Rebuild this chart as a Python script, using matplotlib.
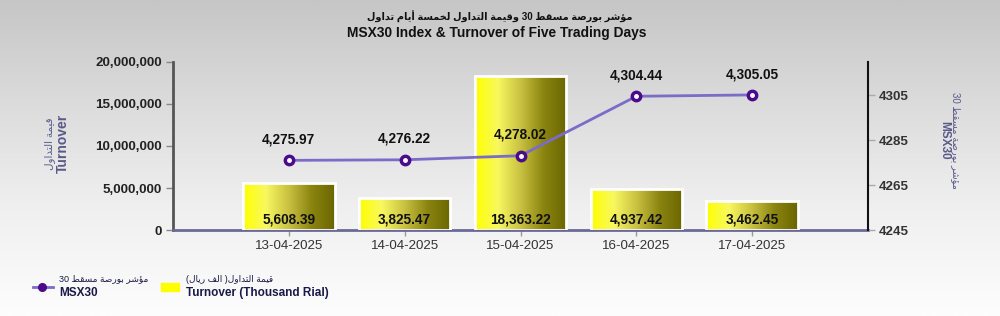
import re
import numpy as np
import matplotlib
matplotlib.use('Agg')
import matplotlib.pyplot as plt
from matplotlib.colors import LinearSegmentedColormap
from matplotlib.lines import Line2D
from matplotlib.patches import Rectangle

# data
dates = ['13-04-2025', '14-04-2025', '15-04-2025', '16-04-2025', '17-04-2025']
turnover = [5608.39, 3825.47, 18363.22, 4937.42, 3462.45]   # thousand rial
msx30 = [4275.97, 4276.22, 4278.02, 4304.44, 4305.05]

title_ar = 'مؤشر بورصة مسقط 30 وقيمة التداول لخمسة أيام تداول'
title_en = 'MSX30 Index & Turnover of Five Trading Days'
left_ar = 'قيمة التداول'
left_en = 'Turnover'
right_ar = 'مؤشر بورصة مسقط 30'
right_en = 'MSX30'
leg1_ar = 'مؤشر بورصة مسقط 30'
leg1_en = 'MSX30'
leg2_ar = 'قيمة التداول( الف ريال)'
leg2_en = 'Turnover (Thousand Rial)'

# simple arabic shaping (isolated, final, initial, medial)
FORMS = {
    'ا': ('\ufe8d', '\ufe8e', None, None),
    'أ': ('\ufe83', '\ufe84', None, None),
    'ب': ('\ufe8f', '\ufe90', '\ufe91', '\ufe92'),
    'ت': ('\ufe95', '\ufe96', '\ufe97', '\ufe98'),
    'ة': ('\ufe93', '\ufe94', None, None),
    'خ': ('\ufea5', '\ufea6', '\ufea7', '\ufea8'),
    'د': ('\ufea9', '\ufeaa', None, None),
    'ر': ('\ufead', '\ufeae', None, None),
    'س': ('\ufeb1', '\ufeb2', '\ufeb3', '\ufeb4'),
    'ش': ('\ufeb5', '\ufeb6', '\ufeb7', '\ufeb8'),
    'ص': ('\ufeb9', '\ufeba', '\ufebb', '\ufebc'),
    'ط': ('\ufec1', '\ufec2', '\ufec3', '\ufec4'),
    'ف': ('\ufed1', '\ufed2', '\ufed3', '\ufed4'),
    'ق': ('\ufed5', '\ufed6', '\ufed7', '\ufed8'),
    'ل': ('\ufedd', '\ufede', '\ufedf', '\ufee0'),
    'م': ('\ufee1', '\ufee2', '\ufee3', '\ufee4'),
    'و': ('\ufeed', '\ufeee', None, None),
    'ؤ': ('\ufe85', '\ufe86', None, None),
    'ي': ('\ufef1', '\ufef2', '\ufef3', '\ufef4'),
}


def ar(text):
    out = []
    for i, c in enumerate(text):
        if c not in FORMS:
            out.append(c)
            continue
        iso, fin, ini, med = FORMS[c]
        prev = text[i - 1] if i > 0 else ''
        nxt = text[i + 1] if i + 1 < len(text) else ''
        jp = prev in FORMS and FORMS[prev][2] is not None
        jn = ini is not None and nxt in FORMS
        if jp and jn:
            out.append(med)
        elif jp:
            out.append(fin)
        elif jn:
            out.append(ini)
        else:
            out.append(iso)
    s = ''.join(out)[::-1]
    s = re.sub(r'[0-9]+', lambda m: m.group(0)[::-1], s)
    return s.translate(str.maketrans('()', ')('))


FAM = ['Liberation Sans', 'DejaVu Sans']
plt.rcParams['font.family'] = FAM

fig = plt.figure(figsize=(10, 3.16), dpi=100)

# background gradient
bg = fig.add_axes([0, 0, 1, 1], zorder=-10)
grad = np.linspace(0, 1, 256).reshape(-1, 1)
bg_cmap = LinearSegmentedColormap.from_list('bg', ['#c6c6c6', '#dcdcdc', '#f0f0f0', '#fdfdfd'])
bg.imshow(grad, aspect='auto', cmap=bg_cmap, extent=[0, 1, 0, 1], origin='upper')
bg.axis('off')

ax = fig.add_axes([0.173, 0.272, 0.695, 0.532])
ax.patch.set_alpha(0)
x = np.arange(len(dates))
heights = [v * 1000 for v in turnover]
bar_cmap = LinearSegmentedColormap.from_list('bar', ['#ffff00', '#f8f860', '#c8c040', '#8a8410', '#6a6600'])
bars = ax.bar(x, heights, 0.79, color='none', edgecolor='white', linewidth=2, zorder=3)
hgrad = np.linspace(0, 1, 256).reshape(1, -1)
for b in bars:
    bx, by = b.get_x(), b.get_y()
    im = ax.imshow(hgrad, cmap=bar_cmap, aspect='auto', zorder=2,
                   extent=[bx, bx + b.get_width(), by, by + b.get_height()])
    im.set_clip_path(b)
for xi, v in zip(x, turnover):
    ax.annotate(f'{v:,.2f}', (xi, 0), xytext=(0, 2.5), textcoords='offset points',
                ha='center', va='bottom', fontsize=9.8, fontweight='bold', color='#111111', zorder=5)

ax.set_xlim(-1, 5)
ax.set_ylim(0, 20000000)
ax.set_yticks([0, 5000000, 10000000, 15000000, 20000000])
ax.yaxis.set_major_formatter(matplotlib.ticker.FuncFormatter(lambda v, p: f'{v:,.0f}'))
ax.set_xticks(x)
ax.set_xticklabels(dates)
ax.tick_params(axis='y', colors='#888888', length=5, width=1, labelcolor='#222222', labelsize=9.6, pad=3)
for t in ax.get_yticklabels():
    t.set_fontweight('bold')
ax.tick_params(axis='x', colors='#999999', length=4, width=1, labelcolor='#333333', labelsize=9.6, pad=3)
ax.spines['top'].set_visible(False)
ax.spines['right'].set_visible(False)
ax.spines['left'].set_color('#555555')
ax.spines['left'].set_linewidth(2)
ax.spines['bottom'].set_color('#6a6a9a')
ax.spines['bottom'].set_linewidth(2)

ax2 = ax.twinx()
ax2.plot(x, msx30, color='#7a6cc8', linewidth=2, marker='o', markersize=7.5,
         markerfacecolor='#4a0a8a', markeredgecolor='#4a0a8a', zorder=4)
ax2.plot(x, msx30, linestyle='none', marker='o', markersize=2.5, color='white', zorder=5)
for xi, v in zip(x, msx30):
    ax2.annotate(f'{v:,.2f}', (xi, v), xytext=(0, 10), textcoords='offset points',
                 ha='center', va='bottom', fontsize=9.8, fontweight='bold', color='#111111')
ax2.set_ylim(4245, 4319.7)
ax2.set_yticks([4245, 4265, 4285, 4305])
ax2.tick_params(axis='y', colors='#aaaaaa', length=5, width=1, labelcolor='#333333', labelsize=9.6, pad=3)
for t in ax2.get_yticklabels():
    t.set_fontweight('bold')
for s in ['top', 'left', 'bottom']:
    ax2.spines[s].set_visible(False)
ax2.spines['right'].set_color('#111111')
ax2.spines['right'].set_linewidth(1.5)

# titles
fig.text(0.5, 0.945, ar(title_ar), ha='center', va='center', fontsize=7,
         fontweight='bold', color='#111111')
fig.text(0.497, 0.895, title_en, ha='center', va='center', fontsize=9.9,
         fontweight='bold', color='#111111')

# axis labels
lab = '#5a5a8a'
fig.text(0.050, 0.545, ar(left_ar), rotation=90, ha='center', va='center', fontsize=7.5, color=lab)
fig.text(0.063, 0.545, left_en, rotation=90, ha='center', va='center', fontsize=10,
         fontweight='bold', color=lab)
fig.text(0.956, 0.555, ar(right_ar), rotation=-90, ha='center', va='center', fontsize=7, color=lab)
fig.text(0.944, 0.555, right_en, rotation=-90, ha='center', va='center', fontsize=8.5,
         fontweight='bold', color=lab)

# legend
leg_c = '#1a1a4a'
fig.add_artist(Line2D([0.033, 0.053], [0.092, 0.092], color='#7a6cc8', linewidth=2))
fig.add_artist(Line2D([0.042], [0.092], marker='o', markersize=5.5, color='#4a0a8a'))
fig.text(0.059, 0.117, ar(leg1_ar), ha='left', va='center', fontsize=6.5, color=leg_c)
fig.text(0.059, 0.072, leg1_en, ha='left', va='center', fontsize=8.5, fontweight='bold', color=leg_c)
fig.add_artist(Rectangle((0.161, 0.080), 0.018, 0.024, color='#ffff00', transform=fig.transFigure))
fig.text(0.186, 0.117, ar(leg2_ar), ha='left', va='center', fontsize=6.5, color=leg_c)
fig.text(0.186, 0.072, leg2_en, ha='left', va='center', fontsize=8.5, fontweight='bold', color=leg_c)

fig.savefig('out.png', dpi=100)
